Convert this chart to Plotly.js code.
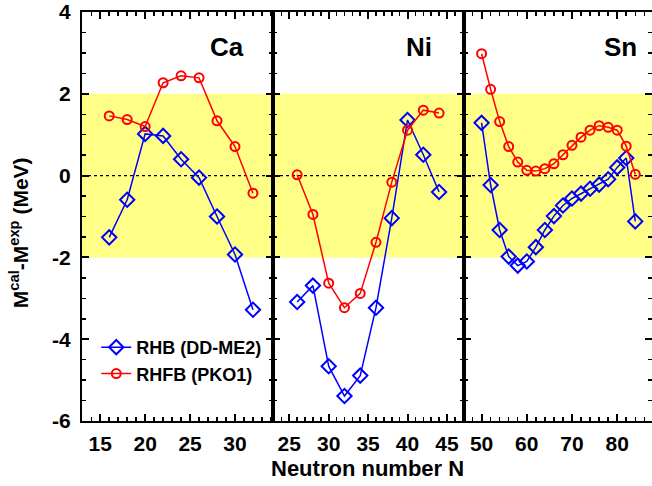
<!DOCTYPE html>
<html>
<head>
<meta charset="utf-8">
<script src="https://cdn.plot.ly/plotly-3.0.1.min.js"></script>
<style>
  html, body { margin: 0; padding: 0; background: #fff; }
  #chart { width: 652px; height: 486px; }
</style>
</head>
<body>
<div id="chart"></div>
<script>
// Mass deviations M(cal) - M(exp) in MeV
var caN = [16, 18, 20, 22, 24, 26, 28, 30, 32]
var caRHB = [-1.51, -0.59, 1.02, 0.97, 0.40, -0.05, -1.00, -1.93, -3.28]
var caRHFB = [1.46, 1.37, 1.20, 2.27, 2.44, 2.39, 1.34, 0.71, -0.43]

var niN = [26, 28, 30, 32, 34, 36, 38, 40, 42, 44]
var niRHB = [-3.09, -2.69, -4.66, -5.39, -4.89, -3.23, -1.04, 1.36, 0.51, -0.40]
var niRHFB = [0.02, -0.95, -2.63, -3.23, -2.88, -1.63, -0.16, 1.11, 1.60, 1.53]

var snN = [50, 52, 54, 56, 58, 60, 62, 64, 66, 68, 70, 72, 74, 76, 78, 80, 82, 84]
var snRHB = [1.29, -0.23, -1.33, -1.98, -2.20, -2.10, -1.75, -1.33, -0.99, -0.73,
             -0.56, -0.44, -0.32, -0.22, -0.09, 0.20, 0.43, -1.12]
var snRHFB = [2.98, 2.11, 1.32, 0.71, 0.33, 0.13, 0.11, 0.17, 0.29, 0.51,
              0.74, 0.94, 1.11, 1.22, 1.18, 1.11, 0.72, 0.03]

var elements = ['Ca', 'Ni', 'Sn']
var seriesNames = ['RHB (DD-ME2)', 'RHFB (PKO1)']

// y tick labels with a plain hyphen, as in the original figure
var yTickVals = [-6, -4, -2, 0, 2, 4]
var yTickText = ['-6', '-4', '-2', '0', '2', '4']

var FONT = 'Liberation Sans, Arial, sans-serif'
var blue = '#0000FF', red = '#FF0000'

var panels = [
    {n: caN, rhb: caRHB, rhfb: caRHFB},
    {n: niN, rhb: niRHB, rhfb: niRHFB},
    {n: snN, rhb: snRHB, rhfb: snRHFB},
]

var data = []
panels.forEach(function (p, i) {
    var sfx = i == 0 ? '' : String(i + 1)
    data.push({
        x: p.n, y: p.rhb, name: seriesNames[0],
        xaxis: 'x' + sfx, yaxis: 'y' + sfx,
        mode: 'lines+markers', showlegend: i == 0,
        line: {color: blue, width: 1.5},
        marker: {symbol: 'diamond-open', size: 11, color: blue, line: {width: 2, color: blue}},
    })
    data.push({
        x: p.n, y: p.rhfb, name: seriesNames[1],
        xaxis: 'x' + sfx, yaxis: 'y' + sfx,
        mode: 'lines+markers', showlegend: i == 0,
        line: {color: red, width: 1.5},
        marker: {symbol: 'circle-open', size: 9, color: red, line: {width: 2, color: red}},
    })
})

var tickFont = {family: FONT, size: 21, color: '#000', weight: 'bold'}

function xAxis(domain, range, dtick, minor) {
    return {
        domain: domain, range: range, dtick: dtick,
        ticks: 'inside', ticklen: 7, tickwidth: 2, tickcolor: '#000',
        minor: {dtick: minor, ticks: 'inside', ticklen: 4, tickwidth: 1.5, tickcolor: '#000'},
        showline: true, linewidth: 2, linecolor: '#000', mirror: 'ticks',
        showgrid: false, zeroline: false, fixedrange: true,
        tickfont: tickFont, ticklabelstandoff: 3, ticklabeloverflow: 'allow',
    }
}

function yAxis(anchor, labels) {
    return {
        anchor: anchor, range: [-6, 4],
        tickmode: 'array', tickvals: yTickVals, ticktext: yTickText,
        ticks: 'inside', ticklen: 7, tickwidth: 2, tickcolor: '#000',
        minor: {dtick: 0.5, ticks: 'inside', ticklen: 4, tickwidth: 1.5, tickcolor: '#000'},
        showline: true, linewidth: 2, linecolor: '#000', mirror: 'ticks',
        showgrid: false, zeroline: false, fixedrange: true,
        showticklabels: labels, tickfont: tickFont, ticklabelstandoff: 5,
        ticklabeloverflow: 'allow',
    }
}

var layout = {
    width: 652, height: 486,
    margin: {l: 82, r: 0, t: 12, b: 65},
    paper_bgcolor: '#fff', plot_bgcolor: 'rgba(0,0,0,0)',
    font: {family: FONT, color: '#000'},
    showlegend: true,
    legend: {
        x: 0.025, y: 0.225, xanchor: 'left', yanchor: 'top',
        bgcolor: 'rgba(0,0,0,0)', borderwidth: 0,
        font: {family: FONT, size: 18, color: '#000', weight: 'bold'},
        tracegroupgap: 0,
    },
    xaxis: xAxis([0, 0.3346], [12.97, 34.2], 5, 1),
    xaxis2: xAxis([0.3346, 0.6693], [22.9, 47.1], 5, 1),
    xaxis3: xAxis([0.6693, 1], [46, 87.7], 10, 2),
    yaxis: yAxis('x', true),
    yaxis2: yAxis('x2', false),
    yaxis3: yAxis('x3', false),
    shapes: [
        // yellow +-2 MeV band
        {type: 'rect', xref: 'paper', yref: 'y', x0: 0, x1: 1, y0: -2, y1: 2,
         fillcolor: '#FFFF88', line: {width: 0}, layer: 'below'},
        {type: 'line', xref: 'paper', yref: 'y', x0: 0, x1: 1, y0: 0, y1: 0,
         line: {color: '#000', width: 1.2, dash: 'dot'}, layer: 'below'},
    ],
    annotations: [
        {text: 'Neutron number N', xref: 'paper', yref: 'paper', x: 0.5, y: -0.115,
         xanchor: 'center', yanchor: 'middle', showarrow: false,
         font: {family: FONT, size: 22, weight: 'bold'}},
        {text: 'M<sup>cal</sup>-M<sup>exp</sup> (MeV)', xref: 'paper', yref: 'paper',
         x: -0.11, y: 0.46, xanchor: 'center', yanchor: 'middle', textangle: -90,
         showarrow: false, font: {family: FONT, size: 21, weight: 'bold'}},
    ],
}

// element labels in the top right corner of each panel
var labelX = [0.858, 0.843, 0.932]
elements.forEach(function (el, i) {
    var sfx = i == 0 ? '' : String(i + 1)
    layout.annotations.push({
        text: el, xref: 'x' + sfx + ' domain', yref: 'y' + sfx + ' domain',
        x: labelX[i], y: 0.915, xanchor: 'right', yanchor: 'middle', showarrow: false,
        font: {family: FONT, size: 26, weight: 'bold'},
    })
})

var config = {displayModeBar: false, staticPlot: true}

Plotly.newPlot('chart', data, layout, config)
</script>
</body>
</html>
